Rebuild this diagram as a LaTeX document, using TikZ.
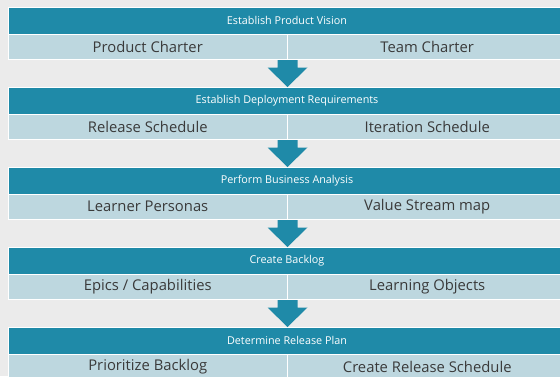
\documentclass[tikz,border=0pt]{standalone}
\usepackage{fontspec}
\setmainfont{Open Sans}
\usetikzlibrary{calc}
\definecolor{teal}{HTML}{1F8AA8}
\definecolor{pale}{HTML}{BDD7DF}
\definecolor{bg}{HTML}{EBEBEB}
\definecolor{txt}{HTML}{3A3A3A}
\tikzset{
  header/.style={fill=teal, draw=white, line width=0.5pt, inner sep=0pt, anchor=north west, minimum height=27pt},
  headtext/.style={text=white, font=\fontsize{10.8}{12}\selectfont, inner sep=0pt},
  subbox/.style={fill=pale, draw=white, line width=0.5pt, text=txt, font=\fontsize{14.8}{17}\selectfont, inner sep=0pt, anchor=north west, minimum height=25pt},
  blockarrow/.style={fill=teal, draw=none}
}
\begin{document}
\begin{tikzpicture}[x=1pt,y=-1pt]
\useasboundingbox (0,0) rectangle (560,376);
\clip (0,0) rectangle (560,376);
\fill[bg] (0,0) rectangle (560,376);
\foreach \i/\h/\l/\r in {0/Establish Product Vision/Product Charter/Team Charter,
  1/Establish Deployment Requirements/Release Schedule/Iteration Schedule,
  2/Perform Business Analysis/Learner Personas/Value Stream map,
  3/Create Backlog/{Epics / Capabilities}/Learning Objects,
  4/Determine Release Plan/Prioritize Backlog/Create Release Schedule}{
  \pgfmathsetmacro{\yz}{7+80*\i}
  \node[header, minimum width=560pt] (h\i) at (8,\yz) {};
  \node[headtext] (ht\i) at (287,\yz+13.5) {\h};
  \node[subbox, minimum width=279pt] (l\i) at (8,\yz+27) {\l};
  \node[subbox, minimum width=280pt] (r\i) at (287,\yz+27) {\r};
}
\foreach \i [evaluate=\i as \j using int(\i+1)] in {0,1,2,3}{
  \coordinate (top\i) at (l\i.south east);
  \coordinate (tip\i) at (h\j.north west -| top\i);
  \fill[blockarrow] ($(top\i)+(-10,0.5)$) -- ($(top\i)+(10,0.5)$) -- ($(top\i)+(10,8)$) -- ($(top\i)+(20,8)$)
    -- (tip\i) -- ($(top\i)+(-20,8)$) -- ($(top\i)+(-10,8)$) -- cycle;
}
\end{tikzpicture}
\end{document}
